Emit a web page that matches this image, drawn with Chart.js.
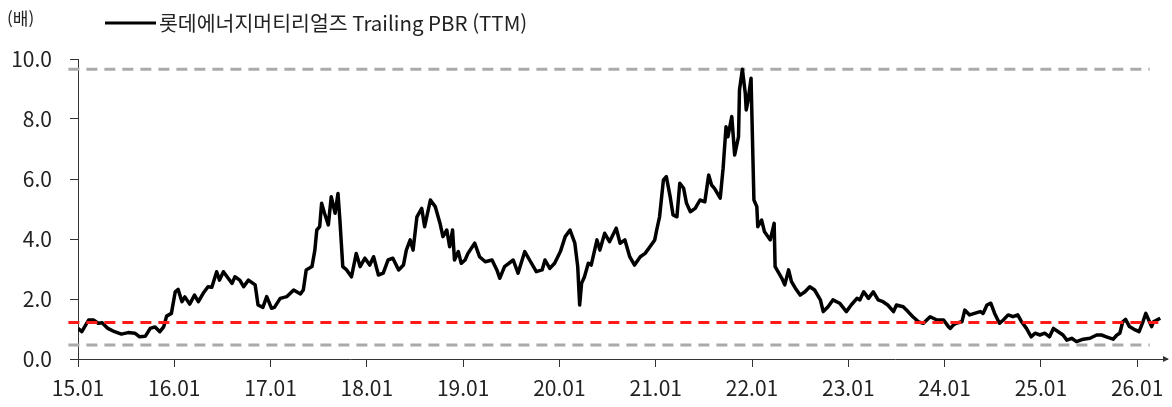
<!DOCTYPE html>
<html lang="ko">
<head>
    <meta charset="UTF-8">
    <title>롯데에너지머티리얼즈 Trailing PBR</title>
    <style>
        body { margin: 0; background: #ffffff; }
        #wrap { position: relative; width: 1172px; height: 407px; }
    </style>
</head>
<body>
    <div id="wrap"><canvas id="pbrChart" width="1172" height="407"></canvas></div>

    <script src="https://cdn.jsdelivr.net/npm/chart.js@4.4.1/dist/chart.umd.min.js"></script>
    <script>
        // 날짜(연도 소수 표기, 15.50 = 2015년 중반)
        const dates = [
            15.00, 15.04, 15.11, 15.16, 15.21, 15.25, 15.31, 15.38, 15.45, 15.52, 15.59, 15.64, 15.70, 15.75, 15.80, 15.85, 15.89, 15.92, 15.97,
            16.01, 16.04, 16.08, 16.11, 16.16, 16.21, 16.25, 16.30, 16.35, 16.39, 16.44, 16.47, 16.51, 16.56, 16.60, 16.63, 16.68, 16.72, 16.77, 16.84, 16.87, 16.92, 16.96,
            17.01, 17.04, 17.10, 17.17, 17.24, 17.31, 17.34, 17.37, 17.43, 17.46, 17.48, 17.51, 17.53, 17.56, 17.60, 17.63, 17.67, 17.70, 17.72, 17.75, 17.79, 17.84, 17.89, 17.93, 17.98,
            18.03, 18.07, 18.12, 18.17, 18.22, 18.27, 18.33, 18.38, 18.41, 18.45, 18.48, 18.52, 18.57, 18.60, 18.66, 18.71, 18.76, 18.79, 18.83, 18.86, 18.89, 18.91, 18.95, 18.98,
            19.02, 19.05, 19.12, 19.17, 19.23, 19.30, 19.35, 19.38, 19.43, 19.52, 19.57, 19.64, 19.69, 19.76, 19.82, 19.85, 19.90, 19.95,
            20.01, 20.06, 20.11, 20.16, 20.19, 20.21, 20.23, 20.26, 20.30, 20.33, 20.39, 20.42, 20.47, 20.52, 20.59, 20.63, 20.68, 20.73, 20.78, 20.84, 20.89, 20.94, 20.99,
            21.01, 21.04, 21.08, 21.11, 21.15, 21.18, 21.22, 21.25, 21.29, 21.32, 21.36, 21.41, 21.46, 21.51, 21.55, 21.58, 21.61, 21.67, 21.70, 21.73, 21.75, 21.79, 21.82, 21.86, 21.87, 21.90, 21.93, 21.94, 21.96, 21.99,
            22.01, 22.02, 22.05, 22.06, 22.10, 22.13, 22.19, 22.23, 22.24, 22.27, 22.31, 22.34, 22.38, 22.41, 22.45, 22.50, 22.55, 22.60, 22.65, 22.71, 22.74, 22.79, 22.84, 22.91, 22.98,
            23.03, 23.09, 23.12, 23.16, 23.21, 23.26, 23.31, 23.36, 23.41, 23.47, 23.50, 23.57, 23.62, 23.67, 23.73, 23.78, 23.85, 23.92, 23.99,
            24.04, 24.06, 24.09, 24.12, 24.18, 24.21, 24.26, 24.31, 24.37, 24.40, 24.44, 24.48, 24.52, 24.57, 24.61, 24.66, 24.71, 24.76, 24.80, 24.85, 24.90, 24.94, 24.99,
            25.04, 25.09, 25.13, 25.18, 25.23, 25.27, 25.32, 25.37, 25.44, 25.51, 25.58, 25.63, 25.68, 25.75, 25.79, 25.82, 25.85, 25.88, 25.92, 25.98,
            26.02, 26.06, 26.09, 26.12, 26.15, 26.17, 26.24
        ];
        // Trailing PBR (배)
        const pbr = [
            1.02, 0.91, 1.30, 1.30, 1.19, 1.21, 1.02, 0.91, 0.83, 0.88, 0.86, 0.74, 0.76, 1.02, 1.07, 0.91, 1.07, 1.43, 1.52,
            2.24, 2.32, 1.91, 2.07, 1.83, 2.13, 1.91, 2.19, 2.41, 2.39, 2.91, 2.63, 2.91, 2.69, 2.52, 2.74, 2.63, 2.41, 2.63, 2.47, 1.80, 1.72, 2.08,
            1.69, 1.72, 2.02, 2.08, 2.30, 2.17, 2.30, 2.97, 3.08, 3.63, 4.30, 4.41, 5.19, 4.86, 4.47, 5.41, 4.86, 5.52, 4.63, 3.08, 2.97, 2.74, 3.52, 3.08, 3.36,
            3.13, 3.41, 2.80, 2.86, 3.30, 3.36, 2.97, 3.13, 3.63, 3.97, 3.63, 4.74, 5.02, 4.41, 5.30, 5.08, 4.52, 4.08, 4.30, 3.74, 4.30, 3.30, 3.58, 3.19,
            3.30, 3.52, 3.86, 3.41, 3.24, 3.30, 2.97, 2.69, 3.08, 3.30, 2.86, 3.58, 3.30, 2.91, 2.97, 3.30, 3.02, 3.19,
            3.58, 4.08, 4.30, 3.86, 3.08, 1.80, 2.52, 2.74, 3.19, 3.13, 3.97, 3.63, 4.19, 3.91, 4.36, 3.86, 3.97, 3.41, 3.13, 3.41, 3.52, 3.74, 3.97,
            4.30, 4.74, 5.97, 6.08, 5.41, 4.80, 4.74, 5.86, 5.69, 5.19, 4.91, 5.02, 5.30, 5.24, 6.13, 5.80, 5.69, 5.36, 6.36, 7.74, 7.41, 8.08, 6.80, 7.41, 8.97, 9.66, 8.86, 8.30, 8.63, 9.36,
            6.63, 5.30, 5.08, 4.41, 4.63, 4.24, 3.97, 4.52, 3.08, 2.91, 2.69, 2.47, 2.97, 2.58, 2.36, 2.13, 2.24, 2.41, 2.30, 1.97, 1.58, 1.74, 1.97, 1.86, 1.58,
            1.80, 2.02, 1.97, 2.24, 2.02, 2.24, 1.97, 1.91, 1.80, 1.58, 1.80, 1.74, 1.58, 1.41, 1.24, 1.19, 1.41, 1.30, 1.30,
            1.08, 1.02, 1.13, 1.19, 1.24, 1.63, 1.47, 1.52, 1.58, 1.52, 1.80, 1.86, 1.52, 1.19, 1.30, 1.47, 1.41, 1.47, 1.24, 1.02, 0.74, 0.86, 0.80,
            0.86, 0.74, 1.02, 0.91, 0.80, 0.63, 0.69, 0.58, 0.66, 0.69, 0.80, 0.80, 0.74, 0.66, 0.80, 0.86, 1.24, 1.32, 1.08, 0.97,
            0.91, 1.24, 1.52, 1.30, 1.08, 1.24, 1.36
        ];
        // 최고 / 평균 / 최저 PBR 밴드
        const bandMax = 9.66;
        const bandAvg = 1.22;
        const bandMin = 0.47;
        const bandStart = 14.9;
        const bandEnd = [26.13, 26.22, 26.13]; // max, avg, min
        const yearTicks = [15, 16, 17, 18, 19, 20, 21, 22, 23, 24, 25, 26];
        const yTicks = [0, 2, 4, 6, 8, 10];
        const seriesName = '롯데에너지머티리얼즈 Trailing PBR (TTM)';
        const unitLabel = '(배)';

        const fontFamily = '"Noto Sans CJK KR", "Noto Sans", sans-serif';

        function flatLine(v, end) {
            return [{ x: bandStart, y: v }, { x: end, y: v }];
        }

        // 범례, 단위, 축 끝 화살표
        const headerPlugin = {
            id: 'header',
            afterDraw(chart) {
                const ctx = chart.ctx;
                const area = chart.chartArea;
                ctx.save();
                ctx.fillStyle = '#222';
                ctx.textBaseline = 'middle';
                ctx.font = '17px ' + fontFamily;
                ctx.fillText(unitLabel, 7, 19);
                ctx.strokeStyle = '#000';
                ctx.lineWidth = 3;
                ctx.beginPath();
                ctx.moveTo(105, 23);
                ctx.lineTo(156, 23);
                ctx.stroke();
                ctx.font = '20.5px ' + fontFamily;
                ctx.fillText(seriesName, 159, 23);
                // x축 끝 화살표
                ctx.fillStyle = '#333';
                ctx.beginPath();
                ctx.moveTo(area.right + 2, area.bottom);
                ctx.lineTo(area.right - 4, area.bottom - 3);
                ctx.lineTo(area.right - 4, area.bottom + 3);
                ctx.closePath();
                ctx.fill();
                ctx.restore();
            }
        };

        const ctx = document.getElementById('pbrChart').getContext('2d');
        new Chart(ctx, {
            type: 'line',
            data: {
                datasets: [
                    {
                        label: '평균',
                        data: flatLine(bandAvg, bandEnd[1]),
                        borderColor: '#ff1a1a',
                        borderWidth: 3,
                        borderDash: [11, 7],
                        pointRadius: 0,
                        clip: false
                    },
                    {
                        label: seriesName,
                        data: dates.map((t, i) => ({ x: t, y: pbr[i] })),
                        borderColor: '#000000',
                        borderWidth: 3.5,
                        pointRadius: 0,
                        tension: 0,
                        borderJoinStyle: 'round'
                    },
                    {
                        label: '최고',
                        data: flatLine(bandMax, bandEnd[0]),
                        borderColor: '#aaaaaa',
                        borderWidth: 3,
                        borderDash: [11, 7],
                        pointRadius: 0,
                        clip: false
                    },
                    {
                        label: '최저',
                        data: flatLine(bandMin, bandEnd[2]),
                        borderColor: '#aaaaaa',
                        borderWidth: 3,
                        borderDash: [11, 7],
                        pointRadius: 0,
                        clip: false
                    }
                ]
            },
            options: {
                responsive: false,
                animation: false,
                layout: { padding: { top: 59, right: 5, left: 0, bottom: 0 } },
                plugins: {
                    legend: { display: false },
                    tooltip: { enabled: false }
                },
                scales: {
                    x: {
                        type: 'linear',
                        min: 15,
                        max: 26.31,
                        afterBuildTicks: axis => { axis.ticks = yearTicks.map(v => ({ value: v })); },
                        afterFit: axis => { axis.height = 48; },
                        grid: { display: true, drawOnChartArea: false, drawTicks: true, tickLength: 8, color: '#333', lineWidth: 1 },
                        border: { display: true, color: '#333', width: 1 },
                        ticks: {
                            autoSkip: false,
                            maxRotation: 0,
                            padding: 8,
                            color: '#222',
                            font: { family: fontFamily, size: 21 },
                            callback: v => v + '.01'
                        }
                    },
                    y: {
                        min: 0,
                        max: 10,
                        afterBuildTicks: axis => { axis.ticks = yTicks.map(v => ({ value: v })); },
                        afterFit: axis => { axis.width = 78; },
                        grid: { display: true, drawOnChartArea: false, drawTicks: true, tickLength: 8, color: '#333', lineWidth: 1 },
                        border: { display: true, color: '#333', width: 1 },
                        ticks: {
                            padding: 18,
                            color: '#222',
                            font: { family: fontFamily, size: 21 },
                            callback: v => v.toFixed(1)
                        }
                    }
                }
            },
            plugins: [headerPlugin]
        });
    </script>
</body>
</html>
